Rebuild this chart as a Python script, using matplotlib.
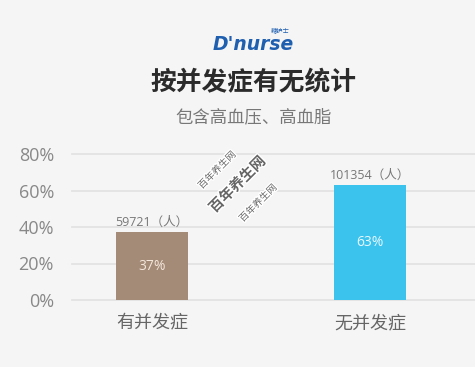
import matplotlib.pyplot as plt
import matplotlib.patheffects as pe

plt.rcParams['font.family'] = ['Open Sans', 'Noto Sans CJK SC', 'DejaVu Sans']

# data
categories = ['有并发症', '无并发症']
percents = [37, 63]
counts = [59721, 101354]
colors = ['#a48b78', '#3bc3ee']
yticks = [0, 20, 40, 60, 80]

fig = plt.figure(figsize=(4.75, 3.67), dpi=100)
fig.patch.set_facecolor('#f5f5f5')
ax = fig.add_axes([72 / 475, 67 / 367, 1 - 72 / 475, 146 / 367])
ax.set_facecolor('#f5f5f5')

x = range(len(categories))
bars = ax.bar(x, percents, width=0.33, color=colors, zorder=3)

for i, b in enumerate(bars):
    h = b.get_height()
    ax.text(b.get_x() + b.get_width() / 2, h / 2, f'{percents[i]}%',
            ha='center', va='center', fontsize=10, color='#f3e6da' if i == 0 else '#e8f8ff', zorder=4)
    ax.text(b.get_x() + b.get_width() / 2, h + 2, f'{counts[i]}（人）',
            ha='center', va='bottom', fontsize=9, color='#777777', zorder=4)

ax.set_xlim(-0.367, 1.48)
ax.set_ylim(0, 80)
ax.set_yticks(yticks)
ax.set_yticklabels([f'{t}%' for t in yticks], fontsize=13, color='#888888')
ax.set_xticks(list(x))
ax.set_xticklabels(categories, fontsize=13, color='#666666')
ax.tick_params(axis='both', length=0)
ax.tick_params(axis='y', pad=13)
ax.tick_params(axis='x', pad=10)
for s in ax.spines.values():
    s.set_visible(False)
ax.grid(axis='y', color='#e3e3e3', linewidth=1.3, zorder=0)
for gl in ax.get_ygridlines():
    gl.set_clip_on(False)

# header
fig.text(253 / 475, 1 - 44 / 367, "D'nurse", ha='center', va='center', fontsize=13.5,
         fontweight='heavy', style='italic', color='#1f5fb0', family='DejaVu Sans')
fig.text(280 / 475, 1 - 30 / 367, '糖护士', ha='center', va='center', fontsize=4.5,
         color='#1f5fb0', family=['Noto Sans CJK SC'])
fig.text(0.533, 1 - 83 / 367, '按并发症有无统计', ha='center', va='center',
         fontsize=18.5, fontweight='bold', color='#2b2b2b', family=['Noto Sans CJK SC'])
fig.text(0.533, 1 - 117 / 367, '包含高血压、高血脂', ha='center', va='center',
         fontsize=12.5, color='#777777', family=['Noto Sans CJK SC'])

# watermark
wm = [(217, 170, 7, 'normal'), (237, 184, 10.5, 'bold'), (258, 203, 7, 'normal')]
for px, py, fs, fw in wm:
    fig.text(px / 475, 1 - py / 367, '百年养生网', ha='center', va='center', rotation=45,
             fontsize=fs, fontweight=fw, color='#666666', family=['Noto Sans CJK SC'],
             path_effects=[pe.withStroke(linewidth=2, foreground='white')], zorder=10)

fig.savefig('out.png', dpi=100, facecolor=fig.get_facecolor())
